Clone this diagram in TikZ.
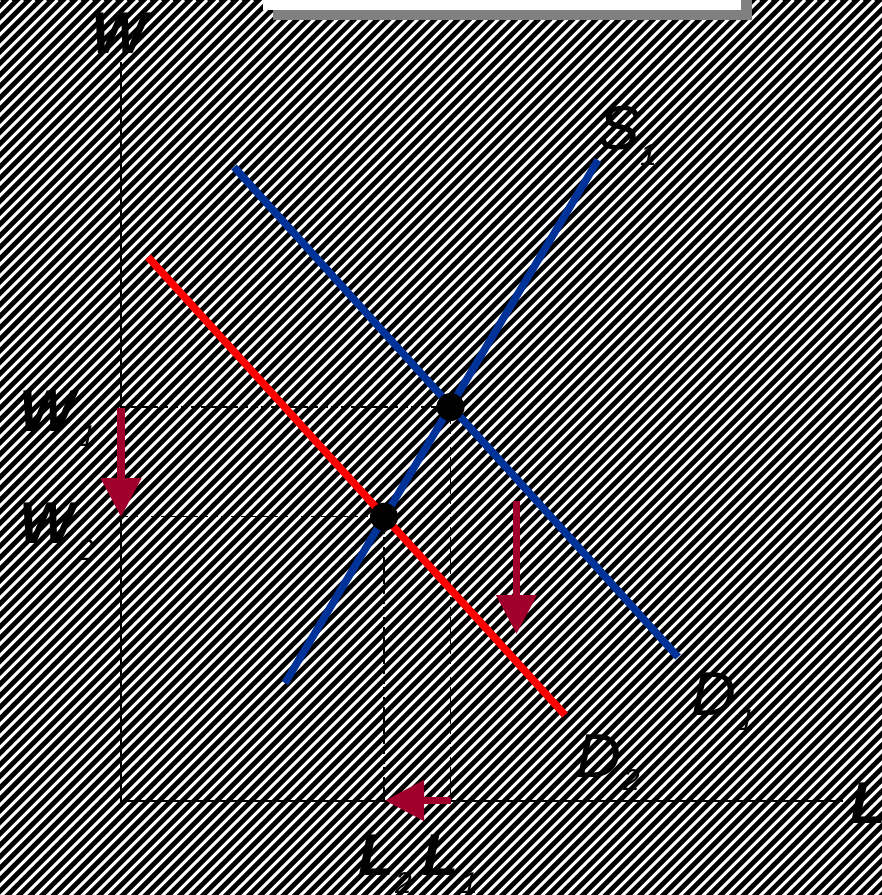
\documentclass[tikz,border=0pt]{standalone}
\usepackage{fontspec}
\setmainfont{Liberation Sans}
\usetikzlibrary{arrows.meta}
\definecolor{sblue}{RGB}{0,51,153}
\definecolor{dred}{RGB}{255,0,0}
\definecolor{arrred}{RGB}{160,0,43}
\definecolor{shadowgray}{RGB}{128,128,128}
\begin{document}
\begin{tikzpicture}[x=1pt,y=-1pt,
 blbl/.style={inner sep=0pt,anchor=base west,font=\fontsize{59}{62}\selectfont\bfseries\itshape},
 ilbl/.style={inner sep=0pt,anchor=base west,font=\fontsize{62}{66}\selectfont\itshape},
 sublbl/.style={inner sep=0pt,anchor=base west,font=\fontsize{30}{32}\selectfont\itshape},
 curve/.style={line width=7.5pt},
 axisline/.style={black,line width=1.2pt},
 guide/.style={black,line width=1.2pt,dash pattern=on 7pt off 3pt},
 shiftarrow/.style={arrred,line width=7.5pt,-{Triangle[width=39pt,length=39pt]}},
 eqdot/.style={circle,fill=black,minimum size=28pt,inner sep=0pt}]
\useasboundingbox (0,0) rectangle (882,895);
% striped background
\fill[black] (0,0) rectangle (882,895);
\begin{scope}
\clip (0,0) rectangle (882,895);
\foreach \c in {0,11.5,...,1800} \draw[white,line width=3.1pt] (\c,0) -- (\c-900,900);
\end{scope}
% title box remnant with shadow
\fill[shadowgray] (273,-10) rectangle (752,20);
\fill[white] (263,-10) rectangle (741,10);
% axes
\coordinate (O) at (121,801);
\coordinate (Ytop) at (121,62);
\coordinate (Xend) at (843,801);
\draw[axisline] (Ytop) -- (O) -- (Xend);
% equilibrium points
\coordinate (e1) at (450.5,407);
\coordinate (e2) at (384,516.7);
% guides
\draw[guide] (O |- e1) -- (e1);
\draw[guide] (O |- e2) -- (e2);
\draw[guide] (e1) -- (e1 |- O);
\draw[guide] (e2) -- (e2 |- O);
% curves
\coordinate (s1a) at (285,683);
\coordinate (s1b) at (598,160);
\coordinate (d1a) at (234,167);
\coordinate (d1b) at (678,657);
\coordinate (d2a) at (148,257);
\coordinate (d2b) at (565,715);
\draw[curve,sblue] (d1a) -- (d1b);
\draw[curve,dred] (d2a) -- (d2b);
\draw[curve,sblue] (s1a) -- (s1b);
\node[eqdot] (p1) at (e1) {};
\node[eqdot] (p2) at (e2) {};
% shift arrows
\coordinate (a1s) at (121,408);
\coordinate (a1e) at (121,517);
\coordinate (a2s) at (516.5,501);
\coordinate (a2e) at (516.5,634);
\coordinate (a3s) at (451,800.5);
\coordinate (a3e) at (385,800.5);
\draw[shiftarrow] (a1s) -- (a1e);
\draw[shiftarrow] (a2s) -- (a2e);
\draw[shiftarrow] (a3s) -- (a3e);
% labels
\node[blbl] (lw) at (91,53) {W};
\node[blbl] (lw1) at (19,431) {W};
\node[sublbl] (lw1s) at (79,446) {1};
\node[blbl] (lw2) at (19,543) {W};
\node[sublbl] (lw2s) at (77,560) {2};
\node[ilbl] (ls1) at (598,149) {S};
\node[sublbl] (ls1s) at (640,165) {1};
\node[ilbl] (ld1) at (691,715) {D};
\node[sublbl] (ld1s) at (738,730) {1};
\node[ilbl] (ld2) at (576,777) {D};
\node[sublbl] (ld2s) at (623,790) {2};
\node[blbl] (ll2) at (358,875) {L};
\node[sublbl] (ll2s) at (395,893) {2};
\node[blbl] (ll1) at (422,875) {L};
\node[sublbl] (ll1s) at (461,893) {1};
\node[blbl] (ll) at (850,823) {L};
\end{tikzpicture}
\end{document}
